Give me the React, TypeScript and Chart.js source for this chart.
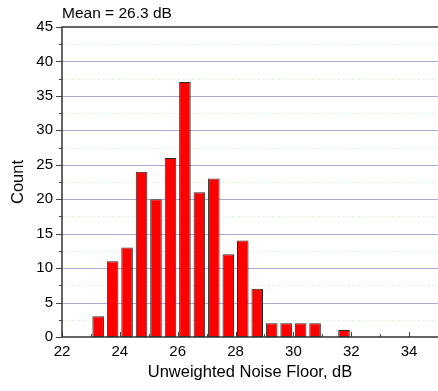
import React, { useEffect, useRef } from "react";
import { Chart, registerables } from "chart.js";

Chart.register(...registerables);

const binCenters = [23.25, 23.75, 24.25, 24.75, 25.25, 25.75, 26.25, 26.75, 27.25, 27.75, 28.25, 28.75, 29.25, 29.75, 30.25, 30.75, 31.25, 31.75];
const counts = [3, 11, 13, 24, 20, 26, 37, 21, 23, 12, 14, 7, 2, 2, 2, 2, 0, 1];
const xTickValues = [22, 24, 26, 28, 30, 32, 34];
const yTickValues = [0, 5, 10, 15, 20, 25, 30, 35, 40, 45];
const titleText = "Mean = 26.3 dB";
const xTitle = "Unweighted Noise Floor, dB";
const yTitle = "Count";

const FONT = "Arial, 'Liberation Sans', sans-serif";

const framePlugin = {
  id: "frame",
  beforeDatasetsDraw(chart: any) {
    const { ctx, chartArea, scales } = chart;
    const y = scales.y;
    ctx.save();
    ctx.setLineDash([3, 2]);
    ctx.strokeStyle = "#e2f6e2";
    ctx.lineWidth = 1;
    for (let v = 2.5; v < 45; v += 5) {
      const py = Math.round(y.getPixelForValue(v)) + 0.5;
      ctx.beginPath();
      ctx.moveTo(chartArea.left, py);
      ctx.lineTo(chartArea.right, py);
      ctx.stroke();
    }
    ctx.setLineDash([]);
    ctx.strokeStyle = "#aaaad6";
    for (let v = 5; v < 45; v += 5) {
      const py = Math.round(y.getPixelForValue(v)) + 0.5;
      ctx.beginPath();
      ctx.moveTo(chartArea.left, py);
      ctx.lineTo(chartArea.right, py);
      ctx.stroke();
    }
    ctx.restore();
  },
  afterDatasetsDraw(chart: any) {
    const { ctx, chartArea, scales } = chart;
    const x = scales.x;
    const y = scales.y;
    ctx.save();
    ctx.strokeStyle = "#444";
    ctx.lineWidth = 1;
    for (let v = 0; v <= 45; v += 2.5) {
      const py = Math.round(y.getPixelForValue(v)) + 0.5;
      const len = v % 5 === 0 ? 6 : 3;
      ctx.beginPath();
      ctx.moveTo(chartArea.left - len, py);
      ctx.lineTo(chartArea.left, py);
      ctx.stroke();
    }
    for (let v = 22; v <= 35; v += 1) {
      const px = Math.round(x.getPixelForValue(v)) + 0.5;
      const len = v % 2 === 0 ? 5 : 3;
      ctx.beginPath();
      ctx.moveTo(px, chartArea.bottom);
      ctx.lineTo(px, chartArea.bottom - len);
      ctx.stroke();
    }
    ctx.lineWidth = 1.5;
    ctx.strokeStyle = "#333";
    ctx.beginPath();
    ctx.moveTo(chartArea.right, chartArea.top);
    ctx.lineTo(chartArea.left, chartArea.top);
    ctx.lineTo(chartArea.left, chartArea.bottom);
    ctx.lineTo(chartArea.right, chartArea.bottom);
    ctx.stroke();
    ctx.fillStyle = "#000";
    ctx.font = `15.5px ${FONT}`;
    ctx.textAlign = "left";
    ctx.textBaseline = "middle";
    ctx.fillText(titleText, chartArea.left, 14);
    ctx.restore();
  },
};

export default function App() {
  const ref = useRef<HTMLCanvasElement | null>(null);
  useEffect(() => {
    document.body.style.margin = "0";
    const canvas = ref.current;
    if (!canvas) return;
    const chart = new Chart(canvas, {
      type: "bar",
      data: {
        datasets: [
          {
            data: binCenters.map((c, i) => ({ x: c, y: counts[i] })),
            backgroundColor: "#ff0000",
            borderColor: "#2a2a2a",
            borderWidth: 1,
            borderSkipped: false,
            barPercentage: 0.8,
            categoryPercentage: 1,
          },
        ],
      },
      options: {
        animation: false,
        responsive: false,
        maintainAspectRatio: false,
        layout: { padding: { top: 27, left: 0, right: 0, bottom: 0 } },
        plugins: { legend: { display: false }, tooltip: { enabled: false }, title: { display: false } },
        scales: {
          x: {
            type: "linear",
            offset: false,
            min: 22,
            max: 35,
            afterFit: (s: any) => { s.height = 54; },
            afterBuildTicks: (s: any) => { s.ticks = xTickValues.map((v) => ({ value: v })); },
            ticks: { color: "#000", font: { size: 15, family: FONT }, padding: 6, maxRotation: 0, autoSkip: false },
            grid: { display: false, drawTicks: false, offset: false },
            border: { display: false },
            title: { display: true, text: xTitle, color: "#000", font: { size: 16.5, family: FONT }, padding: { top: 0, bottom: 9 } },
          },
          y: {
            min: 0,
            max: 45,
            afterFit: (s: any) => { s.width = 62; },
            afterBuildTicks: (s: any) => { s.ticks = yTickValues.map((v) => ({ value: v })); },
            ticks: { color: "#000", font: { size: 15, family: FONT }, padding: 9, autoSkip: false },
            grid: { display: false, drawTicks: false },
            border: { display: false },
            title: { display: true, text: yTitle, color: "#000", font: { size: 16.5, family: FONT }, padding: { top: 9, bottom: 0 } },
          },
        },
      },
      plugins: [framePlugin],
    } as any);
    return () => chart.destroy();
  }, []);
  return <canvas ref={ref} width={438} height={391} style={{ display: "block" }} />;
}
